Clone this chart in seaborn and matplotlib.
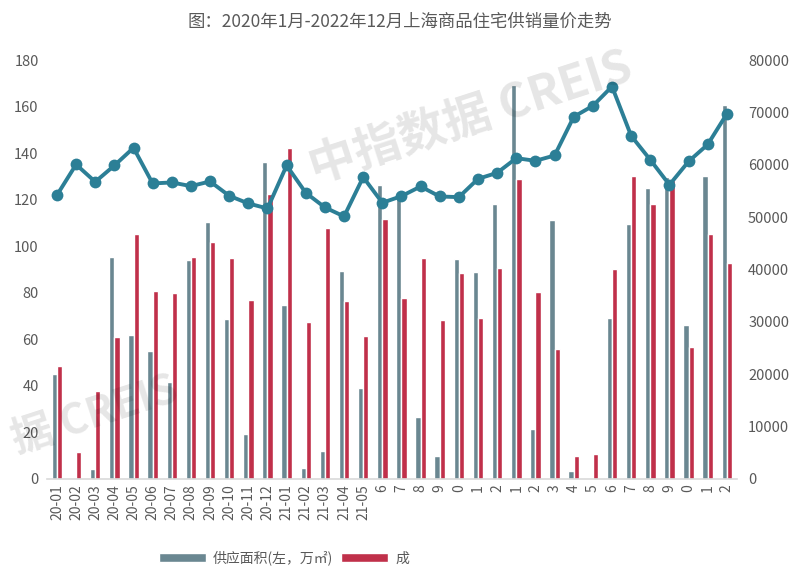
import numpy as np
import pandas as pd
import matplotlib
matplotlib.use("Agg")
import matplotlib.pyplot as plt
import seaborn as sns

months = [f"{y}-{m:02d}" for y in (2020, 2021, 2022) for m in range(1, 13)]
tick_labels = ['20-01', '20-02', '20-03', '20-04', '20-05', '20-06', '20-07', '20-08', '20-09',
               '20-10', '20-11', '20-12', '21-01', '21-02', '21-03', '21-04', '21-05',
               '6', '7', '8', '9', '0', '1', '2', '1', '2', '3', '4', '5', '6', '7', '8', '9',
               '0', '1', '2']

# 供应面积 (万㎡), left axis
supply = [45.1, 0, 4.3, 95.5, 61.9, 55.0, 41.7, 94.1, 110.4, 68.7, 19.3, 136.2,
          74.7, 4.7, 12.0, 89.4, 39.1, 126.3, 122.8, 26.6, 9.9, 94.5, 88.9, 118.1,
          169.2, 21.5, 111.3, 3.4, 0, 69.2, 109.5, 125.0, 129.7, 66.2, 130.2, 160.7]
# 成交面积 (万㎡), left axis
sales = [48.5, 11.6, 37.8, 61.0, 105.4, 80.8, 80.0, 95.4, 101.8, 94.9, 76.9, 122.4,
         142.2, 67.4, 107.8, 76.5, 61.4, 111.7, 77.7, 94.9, 68.3, 88.5, 69.2, 90.6,
         128.8, 80.3, 55.8, 9.9, 10.7, 90.2, 130.2, 118.1, 128.4, 56.7, 105.2, 92.8]
# 成交均价 (元/㎡), right axis
price = [54200, 60050, 56740, 59860, 63230, 56430, 56620, 55920, 56810, 54070, 52610, 51650,
         59860, 54640, 51850, 50130, 57630, 52740, 54010, 55850, 53940, 53820, 57310, 58460,
         61260, 60750, 61770, 69150, 71250, 74940, 65520, 60940, 56170, 60630, 63870, 69720]

series_names = ['供应面积(左，万㎡)', '成']
bar_colors = ['#6A8791', '#C0304A']
line_color = '#2C7F96'
text_color = '#595959'

sns.set_theme(style="white")
plt.rcParams['font.family'] = ['Noto Sans CJK SC', 'DejaVu Sans']

df = pd.DataFrame({
    'month': months * 2,
    'value': supply + sales,
    'series': [series_names[0]] * len(months) + [series_names[1]] * len(months),
})
df_price = pd.DataFrame({'idx': np.arange(len(months)), 'price': price})

fig = plt.figure(figsize=(8.01, 5.82), dpi=100)
ax = fig.add_axes([47 / 801, 103 / 582, 690 / 801, 419 / 582])

sns.barplot(data=df, x='month', y='value', hue='series', order=months,
            hue_order=series_names, palette=bar_colors, width=0.55,
            saturation=1, ax=ax, legend=True)

ax.set_xlim(-0.52, 35.53)
ax.set_ylim(0, 180)
ax.set_yticks(np.arange(0, 181, 20))
ax.set_xticks(np.arange(len(months)))
ax.set_xticklabels(tick_labels, rotation=90, fontsize=10, color=text_color)
ax.tick_params(axis='y', labelsize=10.5, labelcolor=text_color, length=0, pad=6)
ax.tick_params(axis='x', length=0, pad=4)
ax.set_xlabel('')
ax.set_ylabel('')
for s in ['top', 'right', 'left']:
    ax.spines[s].set_visible(False)
ax.spines['bottom'].set_color('#D9D9D9')
ax.spines['bottom'].set_linewidth(1.2)

ax2 = ax.twinx()
sns.lineplot(data=df_price, x='idx', y='price', color=line_color, linewidth=2.8,
             marker='o', markersize=8.5, markeredgewidth=0, ax=ax2)
ax2.set_ylim(0, 80000)
ax2.set_yticks(np.arange(0, 80001, 10000))
ax2.tick_params(axis='y', labelsize=10.5, labelcolor=text_color, length=0, pad=8)
ax2.set_ylabel('')
for s in ['top', 'right', 'left', 'bottom']:
    ax2.spines[s].set_visible(False)

# legend at bottom
handles, labels = ax.get_legend_handles_labels()
ax.get_legend().remove()
fig.legend(handles, labels, loc='center left', bbox_to_anchor=(146 / 801, 1 - 558 / 582),
           ncol=2, frameon=False, fontsize=10, handlelength=3.4, handleheight=0.7,
           columnspacing=0.6, handletextpad=0.5, labelcolor=text_color)

fig.text(400 / 801, 1 - 22 / 582, '图：2020年1月-2022年12月上海商品住宅供销量价走势',
         ha='center', va='center', fontsize=12.5, color=text_color)

# faint watermark
fig.text(470 / 801, 1 - 118 / 582, '中指数据 CREIS', ha='center', va='center',
         fontsize=34, fontweight='bold', color='#000000', alpha=0.1, rotation=18)
fig.text(95 / 801, 1 - 415 / 582, '据 CREIS', ha='center', va='center',
         fontsize=30, fontweight='bold', color='#000000', alpha=0.1, rotation=18)

fig.savefig('out.png', dpi=100)
